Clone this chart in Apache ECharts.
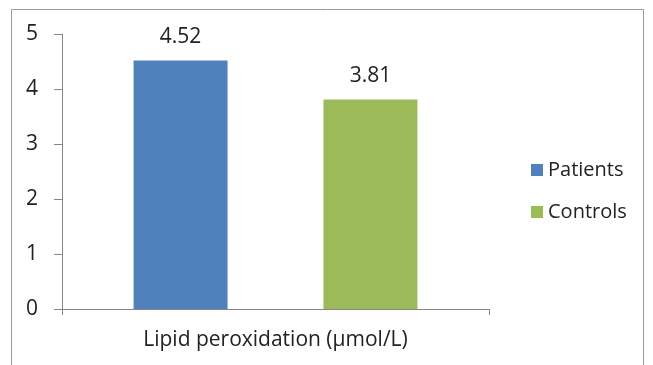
<!DOCTYPE html>
<html><head><meta charset="utf-8">
<script src="https://cdn.jsdelivr.net/npm/echarts@6/dist/echarts.min.js"></script>
<style>html,body{margin:0;padding:0;background:#fff}#c{width:653px;height:365px}</style>
</head><body><div id="c"></div>
<script>
var categories = ['Lipid peroxidation (μmol/L)'];
var seriesNames = ['Patients', 'Controls'];
var patients = [4.52];
var controls = [3.81];
var colors = ['#4F81BD', '#9BBB59'];
var font = 'Open Sans';
var chart = echarts.init(document.getElementById('c'));
chart.setOption({
  animation: false,
  backgroundColor: '#fff',
  graphic: [{type: 'rect', shape: {x: 11.5, y: 9.5, width: 632, height: 400}, style: {fill: 'none', stroke: '#9a9a9a', lineWidth: 1}}],
  grid: {left: 62, top: 34, width: 427, height: 275, containLabel: false},
  legend: {
    orient: 'vertical', left: 526, top: 155, itemWidth: 12, itemHeight: 12, itemGap: 22,
    icon: 'rect', data: seriesNames,
    textStyle: {fontFamily: font, fontSize: 20, color: '#222'}
  },
  xAxis: {
    type: 'category', data: categories,
    axisLine: {lineStyle: {color: '#868686'}},
    axisTick: {show: true, length: 6, lineStyle: {color: '#868686'}},
    axisLabel: {fontFamily: font, fontSize: 21, color: '#222', margin: 21}
  },
  yAxis: {
    type: 'value', min: 0, max: 5, interval: 1,
    axisLine: {show: true, lineStyle: {color: '#868686'}},
    axisTick: {show: true, length: 8, lineStyle: {color: '#868686'}},
    splitLine: {show: false},
    axisLabel: {fontFamily: font, fontSize: 21, color: '#222', margin: 24}
  },
  series: [
    {name: seriesNames[0], type: 'bar', data: patients, barWidth: 94, barGap: '102%', itemStyle: {color: colors[0]},
     label: {show: true, position: 'top', distance: 13, fontFamily: font, fontSize: 21, color: '#222'}},
    {name: seriesNames[1], type: 'bar', data: controls, barWidth: 94, barGap: '102%', itemStyle: {color: colors[1]},
     label: {show: true, position: 'top', distance: 13, fontFamily: font, fontSize: 21, color: '#222'}}
  ]
});
</script></body></html>
